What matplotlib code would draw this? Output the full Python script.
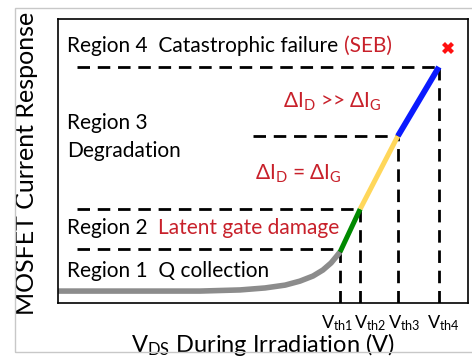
import matplotlib
matplotlib.use('Agg')
import matplotlib.pyplot as plt
from matplotlib.patches import Rectangle

plt.rcParams['font.family'] = ['Lato', 'DejaVu Sans']
plt.rcParams['mathtext.default'] = 'regular'

# threshold voltages (x) and current levels (y), arbitrary units
vth = [6.88, 7.37, 8.29, 9.29]
vth_labels = ['$V_{th1}$', '$V_{th2}$', '$V_{th3}$', '$V_{th4}$']
vth_label_x = [6.80, 7.61, 8.44, 9.39]
levels = [1.90, 3.31, 5.88, 8.31]
hline_start = [0.46, 0.46, 4.76, 0.46]

# region 1 charge collection curve
curve_x = [0.0, 3.46, 4.44, 5.05, 5.54, 5.90, 6.22, 6.46, 6.66, 6.78, 6.88]
curve_y = [0.42, 0.42, 0.46, 0.53, 0.63, 0.77, 0.95, 1.16, 1.41, 1.62, 1.80]

# linear segments: region 2 / 3 / 4
seg_x = [[6.88, 7.37], [7.37, 8.29], [8.29, 9.29]]
seg_y = [[1.80, 3.31], [3.31, 5.88], [5.88, 8.31]]
seg_col = ['#008a00', '#ffd75a', '#0a1aff']
seg_lw = [3.6, 3.6, 4.2]

seb_x, seb_y = 9.51, 8.98

red = '#c8202a'

fig = plt.figure(figsize=(4.72, 3.61), dpi=100)
fig.patches.append(Rectangle((15/472, 1 - 352/361), 1.0, (352-8)/361,
                             transform=fig.transFigure, fill=False,
                             edgecolor='#c8c8c8', lw=1.0))
ax = fig.add_axes([58/472, 1 - 303/361, 410/472, 284/361])
ax.set_xlim(0, 10)
ax.set_ylim(0, 10)

dash = (0, (4.5, 2.8))
for v, lv, x0 in zip(vth, levels, hline_start):
    ax.plot([x0, v], [lv, lv], color='black', lw=2, linestyle=dash)
    ax.plot([v, v], [0, lv], color='black', lw=2, linestyle=dash)

ax.plot(curve_x, curve_y, color='#8c8c8c', lw=4, solid_capstyle='butt',
        solid_joinstyle='round')
for sx, sy, c, w in zip(seg_x, seg_y, seg_col, seg_lw):
    ax.plot(sx, sy, color=c, lw=w, solid_capstyle='butt')

ax.plot(seb_x, seb_y, marker='X', color='#ff1010', markersize=9, markeredgewidth=0)

fs = 15
t = ax.text(0.22, 8.84, 'Region 4  Catastrophic failure ', fontsize=fs, va='baseline')
ax.annotate('(SEB)', xycoords=t, xy=(1, 0), va='bottom', fontsize=fs, color=red)
ax.text(5.49, 6.87, r'$\Delta I_D$ >> $\Delta I_G$', fontsize=fs, color=red, va='baseline')
ax.text(0.22, 6.13, 'Region 3', fontsize=fs, va='baseline')
ax.text(0.22, 5.14, 'Degradation', fontsize=fs, va='baseline')
ax.text(4.80, 4.33, r'$\Delta I_D$ = $\Delta I_G$', fontsize=fs, color=red, va='baseline')
t2 = ax.text(0.22, 2.43, 'Region 2  ', fontsize=fs, va='baseline')
ax.annotate('Latent gate damage', xycoords=t2, xy=(1, 0), va='bottom', fontsize=fs, color=red)
ax.text(0.22, 0.92, 'Region 1  Q collection', fontsize=fs, va='baseline')

for lx, lab in zip(vth_label_x, vth_labels):
    ax.text(lx, -0.35, lab, fontsize=13, ha='center', va='top')

ax.set_xticks([])
ax.set_yticks([])
ax.set_xlabel('$V_{DS}$ During Irradiation (V)', fontsize=17)
ax.xaxis.set_label_coords(0.5, -0.100)
ax.xaxis.label.set_va('top')
ax.set_ylabel('MOSFET Current Response', fontsize=18)
ax.yaxis.set_label_coords(-0.076, 0.49)
ax.yaxis.label.set_va('center')
for s in ax.spines.values():
    s.set_linewidth(1.2)

fig.savefig('out.png', dpi=100)
